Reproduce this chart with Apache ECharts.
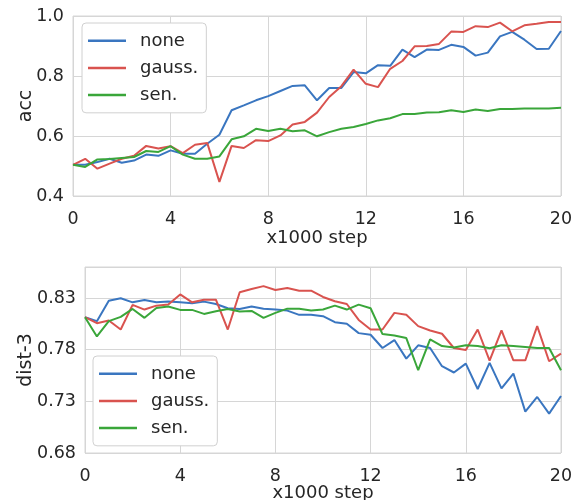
<!DOCTYPE html>
<html>
<head>
    <title>acc / dist-3 vs step</title>
    <script src="https://cdnjs.cloudflare.com/ajax/libs/echarts/6.0.0/echarts.min.js"></script>
    <style>
        html, body { margin: 0; padding: 0; background: #fff; }
        #chart { width: 580px; height: 500px; }
    </style>
</head>
<body>
    <div id="chart"></div>
    <script>
        const steps = [0, 0.5, 1, 1.5, 2, 2.5, 3, 3.5, 4, 4.5, 5, 5.5, 6, 6.5, 7, 7.5, 8, 8.5, 9, 9.5, 10,
                       10.5, 11, 11.5, 12, 12.5, 13, 13.5, 14, 14.5, 15, 15.5, 16, 16.5, 17, 17.5, 18, 18.5, 19, 19.5, 20];
        const seriesNames = ['none', 'gauss.', 'sen.'];
        const colors = ['#3a76c0', '#d9534f', '#3aa63a'];

        // top panel: acc
        const accNone = [0.504, 0.504, 0.513, 0.524, 0.511, 0.518, 0.538, 0.534, 0.552, 0.541, 0.541, 0.574, 0.604, 0.686, 0.702, 0.719, 0.733, 0.750, 0.767, 0.769, 0.719,
                         0.760, 0.760, 0.813, 0.809, 0.836, 0.834, 0.888, 0.863, 0.888, 0.887, 0.904, 0.897, 0.868, 0.878, 0.932, 0.947, 0.921, 0.890, 0.891, 0.950];
        const accGauss = [0.504, 0.524, 0.491, 0.508, 0.524, 0.534, 0.567, 0.558, 0.566, 0.543, 0.571, 0.577, 0.447, 0.567, 0.560, 0.586, 0.583, 0.602, 0.638, 0.647, 0.678,
                          0.730, 0.766, 0.821, 0.774, 0.763, 0.824, 0.850, 0.899, 0.900, 0.907, 0.948, 0.947, 0.966, 0.963, 0.978, 0.949, 0.969, 0.974, 0.980, 0.980];
        const accSen = [0.504, 0.497, 0.522, 0.523, 0.527, 0.530, 0.550, 0.547, 0.566, 0.538, 0.524, 0.524, 0.532, 0.589, 0.599, 0.624, 0.617, 0.624, 0.616, 0.619, 0.599,
                        0.613, 0.624, 0.630, 0.640, 0.652, 0.659, 0.673, 0.673, 0.678, 0.679, 0.686, 0.680, 0.688, 0.683, 0.690, 0.690, 0.692, 0.692, 0.692, 0.694];

        // bottom panel: dist-3
        const distNone = [0.8114, 0.8076, 0.8274, 0.8297, 0.8258, 0.8281, 0.8258, 0.8265, 0.8258, 0.8249, 0.8265, 0.8242, 0.8201, 0.8194, 0.8217, 0.8197, 0.8188, 0.8178, 0.8137, 0.8137, 0.8124,
                          0.8066, 0.8050, 0.7960, 0.7944, 0.7816, 0.7893, 0.7713, 0.7842, 0.7816, 0.7640, 0.7579, 0.7665, 0.7419, 0.7672, 0.7425, 0.7569, 0.7200, 0.7342, 0.7181, 0.7351];
        const distGauss = [0.8114, 0.8056, 0.8082, 0.7995, 0.8233, 0.8188, 0.8226, 0.8236, 0.8335, 0.8258, 0.8284, 0.8284, 0.7995, 0.8355, 0.8387, 0.8415, 0.8377, 0.8396, 0.8371, 0.8371, 0.8310,
                           0.8268, 0.8242, 0.8088, 0.7995, 0.7995, 0.8156, 0.8137, 0.8028, 0.7986, 0.7954, 0.7816, 0.7797, 0.7995, 0.7694, 0.7986, 0.7697, 0.7697, 0.8028, 0.7688, 0.7762];
        const distSen = [0.8114, 0.7928, 0.8076, 0.8117, 0.8194, 0.8108, 0.8204, 0.8217, 0.8185, 0.8185, 0.8146, 0.8172, 0.8194, 0.8169, 0.8175, 0.8108, 0.8156, 0.8197, 0.8197, 0.8178, 0.8188,
                         0.8226, 0.8188, 0.8236, 0.8201, 0.7951, 0.7938, 0.7912, 0.7601, 0.7899, 0.7835, 0.7822, 0.7842, 0.7835, 0.7813, 0.7842, 0.7835, 0.7826, 0.7816, 0.7816, 0.7601];

        const accTicks = [0.4, 0.6, 0.8, 1.0];
        const distTicks = [0.68, 0.73, 0.78, 0.83];
        const xTicks = [0, 4, 8, 12, 16, 20];

        const font = 'DejaVu Sans';
        const textColor = '#262626';
        const gridColor = '#d6d6d6';

        function pairs(ys) {
            return steps.map((x, i) => [x, ys[i]]);
        }

        function xAxis(gridIndex, gap) {
            return {
                type: 'value', gridIndex: gridIndex,
                min: 0, max: 20, interval: 4,
                name: 'x1000 step', nameLocation: 'middle', nameGap: gap, nameMoveOverlap: false,
                nameTextStyle: { fontFamily: font, fontSize: 18, color: textColor },
                axisLine: { show: false }, axisTick: { show: false },
                axisLabel: {
                    fontFamily: font, fontSize: 17.5, color: textColor, margin: 6,
                    formatter: v => xTicks.includes(v) ? String(v) : ''
                },
                splitLine: { show: true, lineStyle: { color: gridColor, width: 1 } }
            };
        }

        function yAxis(gridIndex, name, min, max, interval, ticks, digits, gap) {
            return {
                type: 'value', gridIndex: gridIndex,
                min: min, max: max, interval: interval,
                name: name, nameLocation: 'middle', nameGap: gap, nameRotate: 90, nameMoveOverlap: false,
                nameTextStyle: { fontFamily: font, fontSize: 19, color: textColor },
                axisLine: { show: false }, axisTick: { show: false },
                axisLabel: {
                    fontFamily: font, fontSize: 17.5, color: textColor, margin: 9,
                    formatter: v => ticks.some(t => Math.abs(t - v) < 1e-6) ? v.toFixed(digits) : ''
                },
                splitLine: { show: true, lineStyle: { color: gridColor, width: 1 } }
            };
        }

        function legend(left, top) {
            return {
                orient: 'vertical', left: left, top: top,
                data: seriesNames,
                icon: 'rect', itemWidth: 38, itemHeight: 2.5, itemGap: -8.6,
                padding: [0, 8, 0, 6],
                backgroundColor: '#ffffff', borderColor: '#d0d0d0', borderWidth: 1, borderRadius: 4,
                textStyle: { fontFamily: font, fontSize: 18, color: textColor, padding: [0, 0, 0, 9] }
            };
        }

        function lineSeries(name, idx, ys, axisIndex) {
            return {
                name: name, type: 'line',
                xAxisIndex: axisIndex, yAxisIndex: axisIndex,
                data: pairs(ys),
                showSymbol: false, symbol: 'none',
                color: colors[idx],
                lineStyle: { width: 2, color: colors[idx] },
                animation: false
            };
        }

        const chart = echarts.init(document.getElementById('chart'), null, { renderer: 'canvas' });
        chart.setOption({
            animation: false,
            grid: [
                { left: 73, right: 19, top: 16, bottom: 304, outerBoundsMode: 'none', containLabel: false,
                  show: true, borderColor: gridColor, borderWidth: 1 },
                { left: 85, right: 19, top: 267, bottom: 47, outerBoundsMode: 'none', containLabel: false,
                  show: true, borderColor: gridColor, borderWidth: 1 }
            ],
            xAxis: [xAxis(0, 24), xAxis(1, 22)],
            yAxis: [
                yAxis(0, 'acc', 0.4, 1.0, 0.2, accTicks, 1, 28),
                yAxis(1, 'dist-3', 0.68, 0.86, 0.05, distTicks, 2, 40)
            ],
            legend: [legend(82, 23), legend(93, 356)],
            series: [
                lineSeries('none', 0, accNone, 0),
                lineSeries('gauss.', 1, accGauss, 0),
                lineSeries('sen.', 2, accSen, 0),
                lineSeries('none', 0, distNone, 1),
                lineSeries('gauss.', 1, distGauss, 1),
                lineSeries('sen.', 2, distSen, 1)
            ]
        });
    </script>
</body>
</html>
